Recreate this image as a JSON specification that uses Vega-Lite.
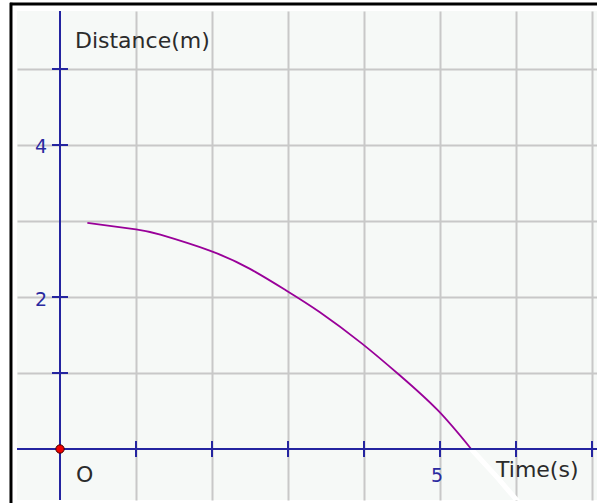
{
  "$schema": "https://vega.github.io/schema/vega-lite/v6.json",
  "width": 580,
  "height": 489,
  "autosize": {"type": "none"},
  "padding": {"left": 17, "top": 11, "right": 0, "bottom": 3},
  "background": "white",
  "view": {"fill": "#f6f9f7", "stroke": null},
  "datasets": {
    "curve": [
      {"t": 0.36, "d": 2.975}, {"t": 1.0, "d": 2.89}, {"t": 1.32, "d": 2.82},
      {"t": 1.97, "d": 2.61}, {"t": 2.5, "d": 2.37}, {"t": 2.97, "d": 2.09},
      {"t": 3.42, "d": 1.8}, {"t": 3.97, "d": 1.39}, {"t": 4.47, "d": 0.97},
      {"t": 4.97, "d": 0.51}, {"t": 5.41, "d": 0.0}
    ],
    "trail": [
      {"t": 5.41, "d": 0.0}, {"t": 5.75, "d": -0.37}, {"t": 6.05, "d": -0.72}
    ],
    "xticks": [
      {"t": 1, "lo": -0.105, "hi": 0.105}, {"t": 2, "lo": -0.105, "hi": 0.105},
      {"t": 3, "lo": -0.105, "hi": 0.105}, {"t": 4, "lo": -0.105, "hi": 0.105},
      {"t": 5, "lo": -0.105, "hi": 0.105}, {"t": 6, "lo": -0.105, "hi": 0.105},
      {"t": 7, "lo": -0.105, "hi": 0.105}
    ],
    "yticks": [
      {"d": 1, "lo": -0.105, "hi": 0.105}, {"d": 2, "lo": -0.105, "hi": 0.105},
      {"d": 4, "lo": -0.105, "hi": 0.105}, {"d": 5, "lo": -0.105, "hi": 0.105}
    ],
    "numbers": [
      {"t": -0.25, "d": 3.895, "label": "4"},
      {"t": -0.25, "d": 1.88, "label": "2"},
      {"t": 4.96, "d": -0.434, "label": "5"}
    ],
    "words": [
      {"t": 0.197, "d": 5.276, "label": "Distance(m)"},
      {"t": 5.737, "d": -0.368, "label": "Time(s)"},
      {"t": 0.21, "d": -0.434, "label": "O"}
    ],
    "border_top": [{"a": -0.658, "b": 7.07, "d": 5.855}],
    "border_left": [{"t": -0.645, "a": 5.87, "b": -0.72}],
    "origin": [{"t": 0, "d": 0}]
  },
  "layer": [
    {
      "data": {"name": "origin"},
      "mark": {"type": "point", "opacity": 0},
      "encoding": {
        "x": {"field": "t", "type": "quantitative",
          "scale": {"domain": [-0.5658, 7.0658], "nice": false, "zero": false},
          "axis": {"values": [1, 2, 3, 4, 5, 6, 7], "grid": true, "gridColor": "#c8c8c8", "gridWidth": 2, "labels": false, "ticks": false, "domain": false, "title": null}},
        "y": {"field": "d", "type": "quantitative",
          "scale": {"domain": [-0.671, 5.763], "nice": false, "zero": false},
          "axis": {"values": [1, 2, 3, 4, 5], "grid": true, "gridColor": "#c8c8c8", "gridWidth": 2, "labels": false, "ticks": false, "domain": false, "title": null}}
      }
    },
    {
      "data": {"name": "trail"},
      "mark": {"type": "line", "color": "white", "strokeWidth": 5, "clip": true},
      "encoding": {
        "x": {"field": "t", "type": "quantitative"},
        "y": {"field": "d", "type": "quantitative"}
      }
    },
    {
      "data": {"name": "curve"},
      "mark": {"type": "line", "color": "#990099", "strokeWidth": 1.8, "interpolate": "natural"},
      "encoding": {
        "x": {"field": "t", "type": "quantitative"},
        "y": {"field": "d", "type": "quantitative"}
      }
    },
    {
      "data": {"name": "origin"},
      "mark": {"type": "rule", "color": "#2424a0", "strokeWidth": 2},
      "encoding": {"y": {"field": "d", "type": "quantitative"}}
    },
    {
      "data": {"name": "origin"},
      "mark": {"type": "rule", "color": "#2424a0", "strokeWidth": 2},
      "encoding": {"x": {"field": "t", "type": "quantitative"}}
    },
    {
      "data": {"name": "xticks"},
      "mark": {"type": "rule", "color": "#2424a0", "strokeWidth": 2},
      "encoding": {
        "x": {"field": "t", "type": "quantitative"},
        "y": {"field": "lo", "type": "quantitative"},
        "y2": {"field": "hi"}
      }
    },
    {
      "data": {"name": "yticks"},
      "mark": {"type": "rule", "color": "#2424a0", "strokeWidth": 2},
      "encoding": {
        "y": {"field": "d", "type": "quantitative"},
        "x": {"field": "lo", "type": "quantitative"},
        "x2": {"field": "hi"}
      }
    },
    {
      "data": {"name": "numbers"},
      "mark": {"type": "text", "font": "DejaVu Sans", "fontSize": 19, "color": "#2a2aa0", "align": "center", "baseline": "alphabetic"},
      "encoding": {
        "x": {"field": "t", "type": "quantitative"},
        "y": {"field": "d", "type": "quantitative"},
        "text": {"field": "label"}
      }
    },
    {
      "data": {"name": "words"},
      "mark": {"type": "text", "font": "DejaVu Sans", "fontSize": 22, "color": "#2b2b2b", "align": "left", "baseline": "alphabetic"},
      "encoding": {
        "x": {"field": "t", "type": "quantitative"},
        "y": {"field": "d", "type": "quantitative"},
        "text": {"field": "label"}
      }
    },
    {
      "data": {"name": "border_top"},
      "mark": {"type": "rule", "color": "black", "strokeWidth": 3, "clip": false},
      "encoding": {
        "x": {"field": "a", "type": "quantitative"},
        "x2": {"field": "b"},
        "y": {"field": "d", "type": "quantitative"}
      }
    },
    {
      "data": {"name": "border_left"},
      "mark": {"type": "rule", "color": "black", "strokeWidth": 3, "clip": false},
      "encoding": {
        "x": {"field": "t", "type": "quantitative"},
        "y": {"field": "a", "type": "quantitative"},
        "y2": {"field": "b"}
      }
    },
    {
      "data": {"name": "origin"},
      "mark": {"type": "point", "filled": true, "fill": "#ee0000", "stroke": "#400000", "strokeWidth": 1, "size": 70, "opacity": 1},
      "encoding": {
        "x": {"field": "t", "type": "quantitative"},
        "y": {"field": "d", "type": "quantitative"}
      }
    }
  ]
}
